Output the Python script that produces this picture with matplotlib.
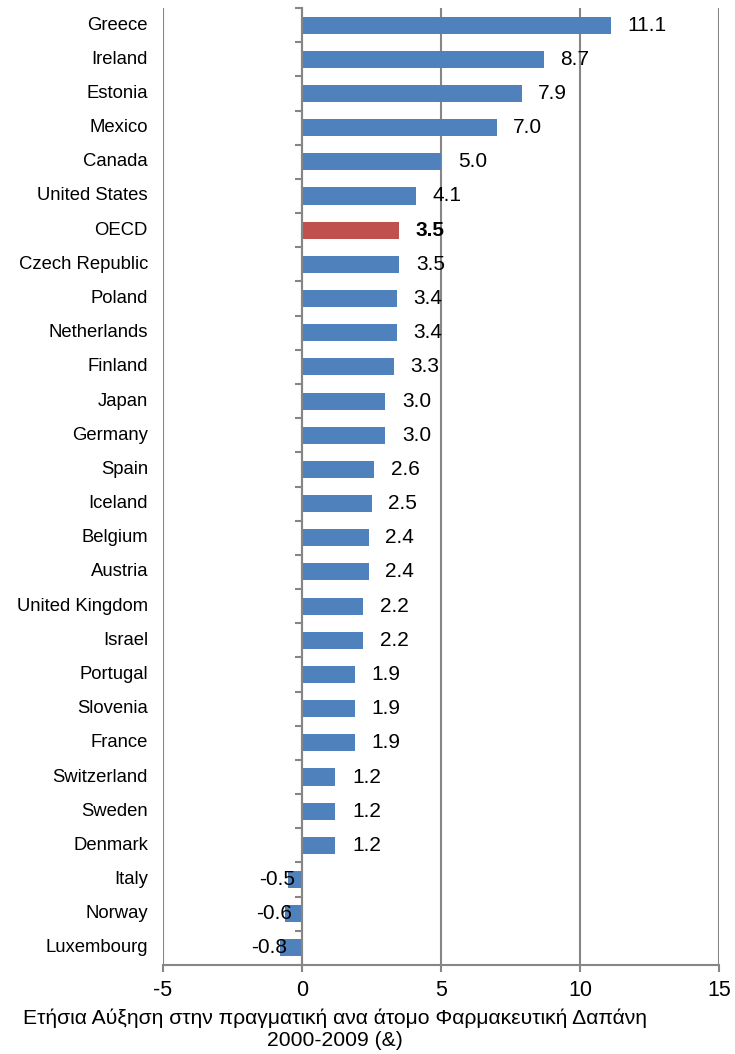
import matplotlib.pyplot as plt
import numpy as np

countries = ['Greece', 'Ireland', 'Estonia', 'Mexico', 'Canada', 'United States', 'OECD',
             'Czech Republic', 'Poland', 'Netherlands', 'Finland', 'Japan', 'Germany', 'Spain',
             'Iceland', 'Belgium', 'Austria', 'United Kingdom', 'Israel', 'Portugal', 'Slovenia',
             'France', 'Switzerland', 'Sweden', 'Denmark', 'Italy', 'Norway', 'Luxembourg']
growth = [11.1, 8.7, 7.9, 7.0, 5.0, 4.1, 3.5, 3.5, 3.4, 3.4, 3.3, 3.0, 3.0, 2.6,
          2.5, 2.4, 2.4, 2.2, 2.2, 1.9, 1.9, 1.9, 1.2, 1.2, 1.2, -0.5, -0.6, -0.8]
x_ticks = [-5, 0, 5, 10, 15]

plt.rcParams['font.family'] = ['Liberation Sans', 'DejaVu Sans']
gray = '#868686'

fig = plt.figure(figsize=(7.35, 10.54), dpi=100)
ax = fig.add_axes([163 / 735, 1 - 965 / 1054, (719 - 163) / 735, (965 - 8) / 1054])

n = len(countries)
pos = np.arange(n)
colors = ['#C0504D' if c == 'OECD' else '#4F81BD' for c in countries]
ax.barh(pos, growth, height=0.5, color=colors, zorder=3)

ax.set_xlim(-5, 15)
ax.set_ylim(n - 0.5, -0.5)
ax.set_xticks(x_ticks)
ax.set_xticklabels([str(t) for t in x_ticks])
ax.tick_params(axis='x', direction='out', length=5, width=1.5, color=gray,
               labelsize=15.5, pad=6)
ax.grid(axis='x', color=gray, linewidth=1.5, zorder=0)

# category axis sits at zero, ticks between categories
ax.spines['left'].set_position(('data', 0))
ax.spines['left'].set_color(gray)
ax.spines['left'].set_linewidth(1.5)
ax.spines['left'].set_zorder(4)
ax.set_yticks(np.arange(n + 1) - 0.5)
ax.set_yticklabels([])
ax.tick_params(axis='y', direction='out', length=5, width=1.5, color=gray)
for s in ['top', 'right']:
    ax.spines[s].set_visible(False)
ax.spines['bottom'].set_color(gray)
ax.spines['bottom'].set_linewidth(1.5)

ytr = ax.get_yaxis_transform()
for i, c in enumerate(countries):
    ax.text(-0.027, i, c, transform=ytr, ha='right', va='center', fontsize=13.3)

for i, (c, v) in enumerate(zip(countries, growth)):
    weight = 'bold' if c == 'OECD' else 'normal'
    if v >= 0:
        ax.annotate(f'{v:.1f}', (v, i), xytext=(12, 0), textcoords='offset points',
                    ha='left', va='center', fontsize=15, fontweight=weight, zorder=5)
    else:
        ax.annotate(f'{v:.1f}', (v, i), xytext=(5, 0), textcoords='offset points',
                    ha='right', va='center', fontsize=15, fontweight=weight, zorder=5)

fig.text(335 / 735, 1 - 1008 / 1054,
         'Ετήσια Αύξηση στην πραγματική ανα άτομο Φαρμακευτική Δαπάνη\n2000-2009 (&)',
         ha='center', va='top', multialignment='center', fontsize=15.2, linespacing=1.2)

fig.savefig('out.png', dpi=100)
